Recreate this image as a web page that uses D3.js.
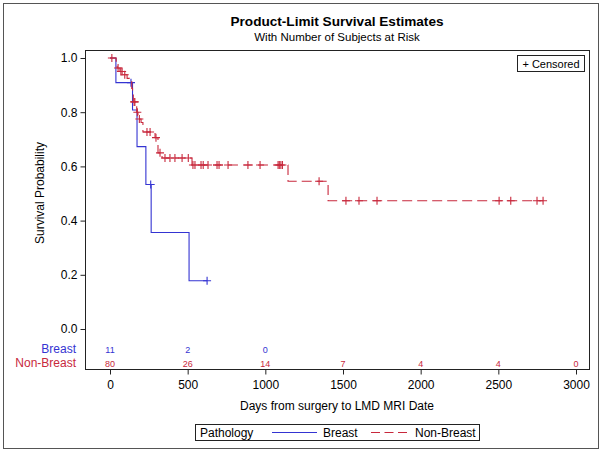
<!DOCTYPE html>
<html><head><meta charset="utf-8">
<script src="https://cdn.jsdelivr.net/npm/d3@7"></script>
<style>
html,body{margin:0;padding:0;background:#fff;}
text{font-family:"Liberation Sans",Arial,sans-serif;}
</style></head>
<body>
<svg id="chart" width="604" height="455"></svg>
<script>
// ---- data ----
const breastTimes = [0, 38, 145, 174, 231, 265, 509];
const breastSurv  = [1, 0.909, 0.808, 0.673, 0.533, 0.356, 0.178];
const breastCensor = [135, 262, 625];

const nonBreastTimes = [0, 40, 46, 64, 84, 110, 125, 140, 145, 150, 165, 172, 180, 186, 200, 212, 290, 309, 335, 528, 1146, 1404];
const nonBreastSurv  = [1, 0.975, 0.963, 0.95, 0.938, 0.925, 0.913, 0.888, 0.863, 0.838, 0.825, 0.80, 0.787, 0.775, 0.762, 0.727, 0.706, 0.65, 0.631, 0.605, 0.545, 0.473];
const nonBreastCensor = [12, 52, 70, 78, 95, 155, 160, 176, 189, 238, 258, 296, 322, 354, 386, 418, 464, 504, 534, 547, 586, 600, 631, 689, 702, 760, 888, 966, 1082, 1090, 1100, 1110, 1346, 1519, 1603, 1719, 2505, 2580, 2749, 2788];

const groups = ["Breast", "Non-Breast"];
const atRiskTimes = [0, 500, 1000, 1500, 2000, 2500, 3000];
const breastAtRisk = [11, 2, 0];
const nonBreastAtRisk = [80, 26, 14, 7, 4, 4, 0];

const xTicks = [0, 500, 1000, 1500, 2000, 2500, 3000];
const yTicks = [0, 0.2, 0.4, 0.6, 0.8, 1.0];

const titleText = "Product-Limit Survival Estimates";
const subtitleText = "With Number of Subjects at Risk";
const xLabel = "Days from surgery to LMD MRI Date";
const yLabel = "Survival Probability";
const legendTitle = "Pathology";
const censorLabel = "+ Censored";

// ---- layout ----
const blue = "#3434d2", red = "#c8283c";
const svg = d3.select("#chart");
const frame = {l: 85, r: 589, t: 50, b: 369};
const x = d3.scaleLinear().domain([0, 3000]).range([110, 576]);
const y = d3.scaleLinear().domain([0, 1]).range([329, 58]);

// outer border
svg.append("rect").attr("x", 3.5).attr("y", 3.5).attr("width", 595).attr("height", 445)
  .attr("fill", "none").attr("stroke", "#555").attr("stroke-width", 1);

// titles
svg.append("text").attr("x", 337).attr("y", 26).attr("text-anchor", "middle")
  .attr("font-size", "13.6px").attr("font-weight", "bold").text(titleText);
svg.append("text").attr("x", 337).attr("y", 41).attr("text-anchor", "middle")
  .attr("font-size", "11.5px").text(subtitleText);

// plot frame
svg.append("rect").attr("x", frame.l + 0.5).attr("y", frame.t + 0.5)
  .attr("width", frame.r - frame.l).attr("height", frame.b - frame.t)
  .attr("fill", "none").attr("stroke", "#222");

// axes
const yAxis = svg.append("g").attr("transform", `translate(${frame.l + 0.5},0)`)
  .call(d3.axisLeft(y).tickValues(yTicks).tickFormat(d3.format(".1f")).tickSize(5).tickPadding(3));
const xAxis = svg.append("g").attr("transform", `translate(0,${frame.b + 0.5})`)
  .call(d3.axisBottom(x).tickValues(xTicks).tickFormat(d3.format("d")).tickSize(5).tickPadding(6));
[yAxis, xAxis].forEach(g => {
  g.select(".domain").remove();
  g.selectAll("text").attr("font-size", "12px").attr("fill", "#000")
    .style("font-family", '"Liberation Sans",Arial,sans-serif');
  g.selectAll("line").attr("stroke", "#222");
});

// axis labels
svg.append("text").attr("x", 337).attr("y", 410).attr("text-anchor", "middle")
  .attr("font-size", "12px").text(xLabel);
svg.append("text").attr("transform", "translate(44,193) rotate(-90)").attr("text-anchor", "middle")
  .attr("font-size", "12px").text(yLabel);

// curves
function stepFn(times, surv) {
  return t => { let s = surv[0]; for (let i = 0; i < times.length; i++) if (times[i] <= t) s = surv[i]; return s; };
}
function drawCurve(times, surv, censor, color, dash) {
  const end = d3.max(censor);
  const pts = times.map((t, i) => [t, surv[i]]);
  pts.push([end, surv[surv.length - 1]]);
  const line = d3.line().x(d => x(d[0])).y(d => y(d[1])).curve(d3.curveStepAfter);
  svg.append("path").datum(pts).attr("d", line).attr("fill", "none")
    .attr("stroke", color).attr("stroke-width", 1.1).attr("stroke-dasharray", dash);
  const f = stepFn(times, surv);
  svg.append("g").selectAll("path").data(censor).join("path")
    .attr("d", t => { const cx = x(t), cy = y(f(t)); return `M${cx - 4},${cy}H${cx + 4}M${cx},${cy - 4}V${cy + 4}`; })
    .attr("stroke", color).attr("stroke-width", 1.1).attr("fill", "none");
}
drawCurve(breastTimes, breastSurv, breastCensor, blue, null);
drawCurve(nonBreastTimes, nonBreastSurv, nonBreastCensor, red, "10,5");

// at-risk table
const riskRows = [
  {name: groups[0], vals: breastAtRisk, color: blue, yy: 349},
  {name: groups[1], vals: nonBreastAtRisk, color: red, yy: 363}
];
riskRows.forEach(r => {
  svg.append("text").attr("x", 76).attr("y", r.yy + 4).attr("text-anchor", "end")
    .attr("font-size", "12px").attr("fill", r.color).text(r.name);
  svg.append("g").selectAll("text").data(r.vals).join("text")
    .attr("x", (d, i) => x(atRiskTimes[i])).attr("y", r.yy + 3.5).attr("text-anchor", "middle")
    .attr("font-size", "9px").attr("fill", r.color).text(d => d);
});

// censored legend
svg.append("rect").attr("x", 517.5).attr("y", 55.5).attr("width", 67).attr("height", 16)
  .attr("fill", "#fff").attr("stroke", "#222");
svg.append("text").attr("x", 551).attr("y", 67.5).attr("text-anchor", "middle")
  .attr("font-size", "11px").text(censorLabel);

// bottom legend
const lg = svg.append("g");
lg.append("rect").attr("x", 195.5).attr("y", 424.5).attr("width", 284).attr("height", 16)
  .attr("fill", "#fff").attr("stroke", "#222");
lg.append("text").attr("x", 200).attr("y", 437).attr("font-size", "12px").text(legendTitle);
lg.append("line").attr("x1", 272).attr("x2", 317).attr("y1", 432.5).attr("y2", 432.5)
  .attr("stroke", blue).attr("stroke-width", 1.1);
lg.append("text").attr("x", 323).attr("y", 437).attr("font-size", "12px").text(groups[0]);
lg.append("line").attr("x1", 371).attr("x2", 408).attr("y1", 432.5).attr("y2", 432.5)
  .attr("stroke", red).attr("stroke-width", 1.1).attr("stroke-dasharray", "9,4.5");
lg.append("text").attr("x", 415).attr("y", 437).attr("font-size", "12px").text(groups[1]);
</script>
</body></html>
